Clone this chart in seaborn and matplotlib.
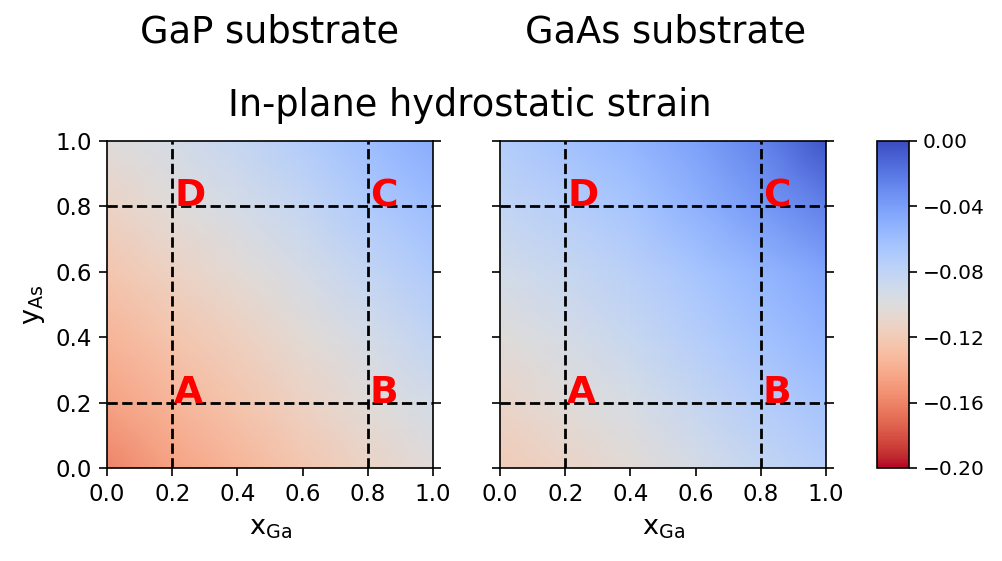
import numpy as np
import seaborn as sns
import matplotlib
matplotlib.use("Agg")
import matplotlib.pyplot as plt

sns.set_theme(style="ticks")
plt.rcParams['font.family'] = ['DejaVu Sans']
for k in ["text.color", "axes.labelcolor", "xtick.color", "ytick.color", "axes.edgecolor"]:
    plt.rcParams[k] = "black"

# composition grid (nodes)
x_ga = [0.0, 0.2, 0.4, 0.6, 0.8, 1.0]
y_as = [0.0, 0.2, 0.4, 0.6, 0.8, 1.0]

# strain, rows = y_As, cols = x_Ga
strain_gap = [
    [-0.160, -0.146, -0.135, -0.124, -0.113, -0.103],
    [-0.146, -0.135, -0.125, -0.114, -0.103, -0.092],
    [-0.135, -0.125, -0.115, -0.104, -0.093, -0.081],
    [-0.124, -0.114, -0.104, -0.094, -0.082, -0.070],
    [-0.113, -0.103, -0.093, -0.083, -0.070, -0.059],
    [-0.102, -0.093, -0.083, -0.072, -0.060, -0.048],
]
strain_gaas = [
    [-0.120, -0.112, -0.104, -0.094, -0.083, -0.074],
    [-0.111, -0.103, -0.095, -0.084, -0.073, -0.064],
    [-0.102, -0.094, -0.085, -0.074, -0.063, -0.053],
    [-0.092, -0.085, -0.076, -0.065, -0.054, -0.043],
    [-0.082, -0.074, -0.065, -0.052, -0.038, -0.025],
    [-0.072, -0.063, -0.054, -0.042, -0.026, -0.004],
]

points = ["A", "B", "C", "D"]
pt_x = [0.2, 0.8, 0.8, 0.2]
pt_y = [0.2, 0.2, 0.8, 0.8]
cbar_ticks = [0.00, -0.04, -0.08, -0.12, -0.16, -0.20]

cmap = sns.color_palette("coolwarm_r", as_cmap=True)

fig = plt.figure(figsize=(10.03, 5.61), dpi=100)
ax1 = fig.add_axes([0.1067, 0.1658, 0.325, 0.583])
ax2 = fig.add_axes([0.4985, 0.1658, 0.325, 0.583])
cax = fig.add_axes([0.8744, 0.1658, 0.0319, 0.583])

X, Y = np.meshgrid(x_ga, y_as)
for ax, z in [(ax1, strain_gap), (ax2, strain_gaas)]:
    mesh = ax.pcolormesh(X, Y, np.array(z), shading="gouraud", cmap=cmap,
                         vmin=-0.20, vmax=0.0, rasterized=True)
    for v in [0.2, 0.8]:
        ax.axvline(v, color="black", ls="--", lw=2)
        ax.axhline(v, color="black", ls="--", lw=2)
    for lab, px, py in zip(points, pt_x, pt_y):
        ax.text(px + 0.006, py, lab, color="red", fontsize=27,
                fontweight="bold", ha="left", va="baseline")
    ax.set_xlim(0, 1)
    ax.set_ylim(0, 1)
    ax.set_xticks([0.0, 0.2, 0.4, 0.6, 0.8, 1.0])
    ax.set_yticks([0.0, 0.2, 0.4, 0.6, 0.8, 1.0])
    ax.tick_params(axis="both", labelsize=16.5, direction="out", length=6,
                   width=1.2, pad=5)
    ax.tick_params(axis="y", right=True)
    ax.set_xlabel(r"$\mathrm{x_{Ga}}$", fontsize=19.5, labelpad=6)
    for s in ax.spines.values():
        s.set_linewidth(1.2)

ax1.set_ylabel(r"$\mathrm{y_{As}}$", fontsize=19.5, labelpad=6)
ax2.set_yticklabels([])

cb = fig.colorbar(mesh, cax=cax, ticks=cbar_ticks)
cb.ax.tick_params(labelsize=14.5, length=6, width=1.2, pad=4)
cb.outline.set_edgecolor("black")
cb.outline.set_linewidth(1.2)
cb.ax.set_yticklabels(["0.00", "\u22120.04", "\u22120.08", "\u22120.12",
                       "\u22120.16", "\u22120.20"])

fig.text(0.2692, 0.943, "GaP substrate", fontsize=26.5, ha="center", va="center")
fig.text(0.6635, 0.943, "GaAs substrate", fontsize=26.5, ha="center", va="center")
fig.text(0.468, 0.812, "In-plane hydrostatic strain", fontsize=26.5,
         ha="center", va="center")

fig.savefig("out.png", dpi=100)
